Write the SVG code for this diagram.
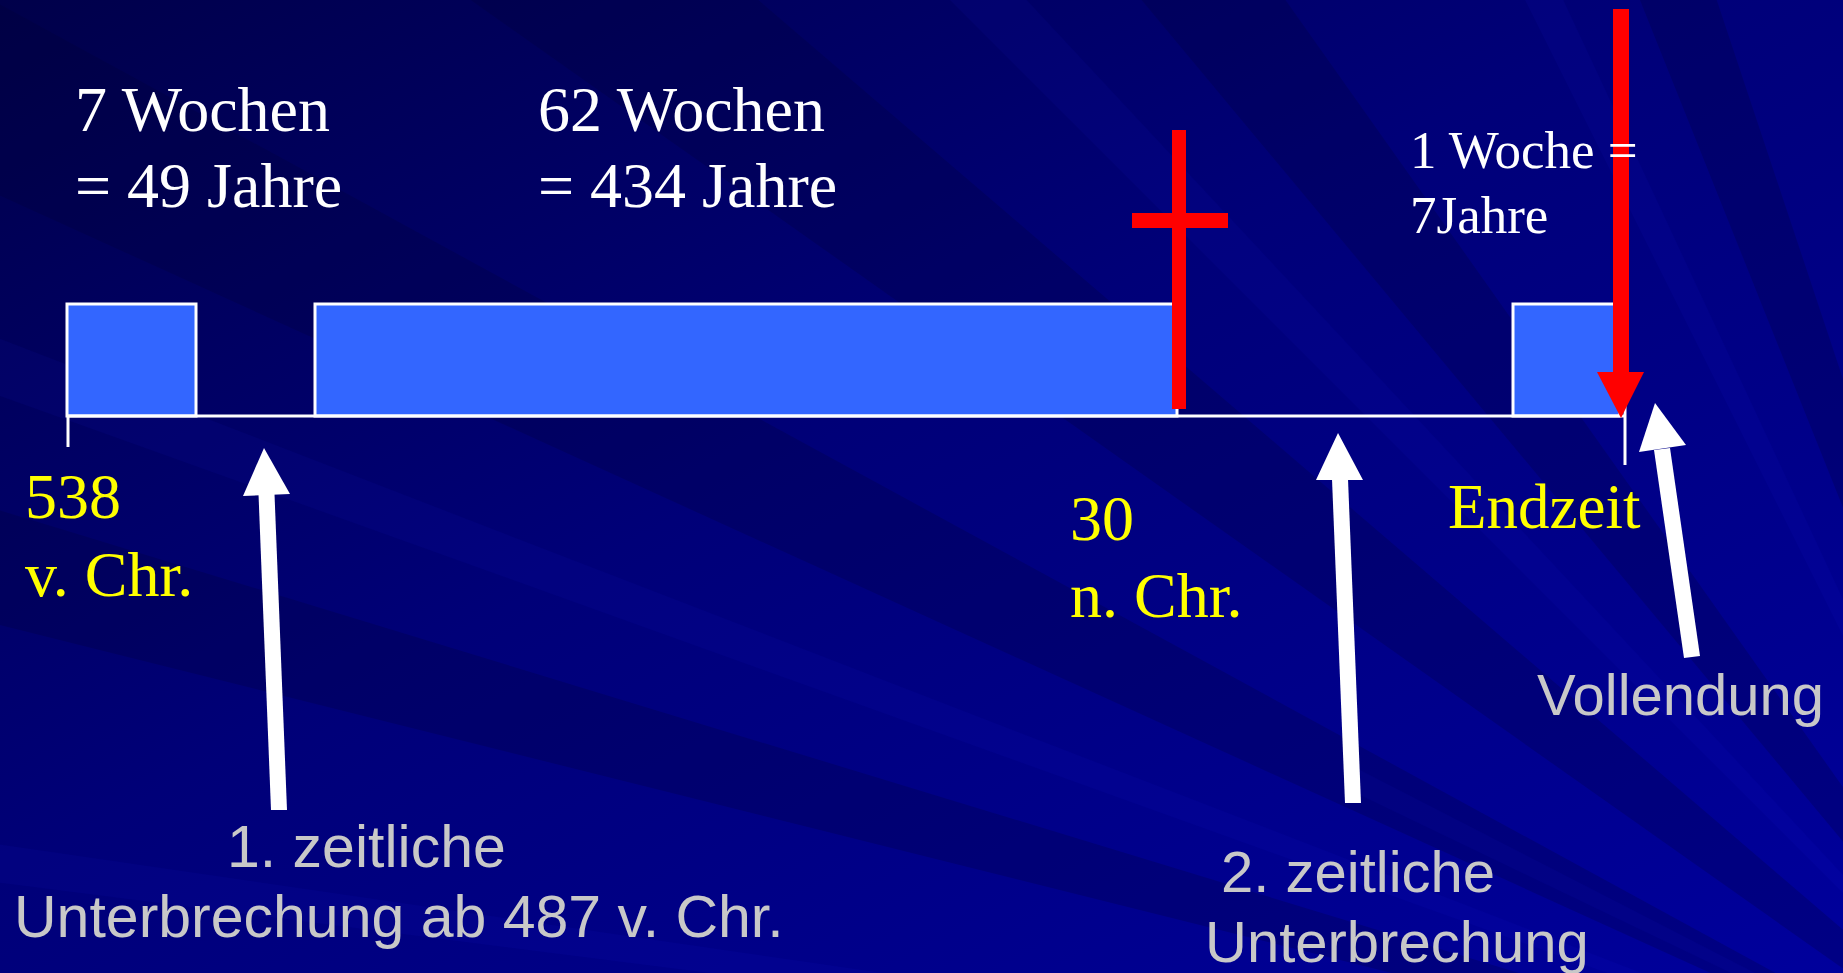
<svg xmlns="http://www.w3.org/2000/svg" width="1843" height="973" viewBox="0 0 1843 973">
<defs>
<linearGradient id="bg" x1="0" y1="0" x2="1" y2="1">
<stop offset="0" stop-color="#00004a"/>
<stop offset="0.45" stop-color="#000078"/>
<stop offset="1" stop-color="#00009c"/>
</linearGradient>
<style>
.serif{font-family:"Liberation Serif","Times New Roman",serif}
.sans{font-family:"Liberation Sans",Arial,sans-serif}
.w{fill:#ffffff}
.y{fill:#ffff00}
.g{fill:#c8c8c8}
.box{fill:#3366ff;stroke:#ffffff;stroke-width:3}
.ln{stroke:#ffffff;stroke-width:3;fill:none}
.red{fill:#ff0000}
.arr{fill:#ffffff}
.rayL{fill:#2a2aff;opacity:0.06}
.rayD{fill:#000030;opacity:0.22}
</style>
</defs>
<rect width="1843" height="973" fill="url(#bg)"/>
<g id="background-rays">
<polygon class="rayD" points="2100,1150 -100,-50 -100,150"/>
<polygon class="rayL" points="2100,1150 -100,300 -100,360"/>
<polygon class="rayD" points="2100,1150 -100,480 -100,600"/>
<polygon class="rayL" points="2100,1150 -100,830 -100,870"/>
<polygon class="rayD" points="2100,1150 400,-50 700,-50"/>
<polygon class="rayL" points="2100,1150 900,-50 980,-50"/>
<polygon class="rayD" points="2100,1150 1100,-50 1250,-50"/>
<polygon class="rayL" points="2100,1150 1500,-50 1540,-50"/>
<polygon class="rayD" points="2100,1150 1620,-50 1700,-50"/>
<polygon class="rayL" points="2100,1150 1360,770 1360,795"/>
</g>
<g id="timeline">
<rect id="box-7" class="box" x="67" y="304" width="129" height="112"/>
<rect id="box-62" class="box" x="315" y="304" width="862" height="112"/>
<rect id="box-1" class="box" x="1513" y="304" width="107" height="112"/>
<line class="ln" x1="67" y1="416" x2="1625" y2="416"/>
<line class="ln" x1="68" y1="416" x2="68" y2="447" stroke-width="2"/>
<line class="ln" x1="1625" y1="402" x2="1625" y2="465" stroke-width="2"/>
</g>
<g id="cross">
<rect class="red" x="1172" y="130" width="14" height="279"/>
<rect class="red" x="1132" y="213" width="96" height="15"/>
</g>
<g id="connectors">
<g id="red-arrow">
<rect class="red" x="1613" y="9" width="16" height="364"/>
<polygon class="red" points="1597,372 1644,372 1621,418"/>
</g>
<g id="arrow-1">
<polygon class="arr" points="258.5,494 274.5,494 287,810 271,810"/>
<polygon class="arr" points="264,448 290,494 243,496"/>
</g>
<g id="arrow-2">
<polygon class="arr" points="1332,479 1348,479 1361,803 1345,803"/>
<polygon class="arr" points="1338,433 1363,480 1316,480"/>
</g>
<g id="arrow-3">
<polygon class="arr" points="1654,450 1670,448 1700,656 1684,658"/>
<polygon class="arr" points="1655,403 1686,445 1639,452"/>
</g>
</g>
<g id="label-7wochen" class="serif w" font-size="64">
<text x="75" y="131">7 Wochen</text>
<text x="75" y="207">= 49 Jahre</text>
</g>
<g id="label-62wochen" class="serif w" font-size="64">
<text x="538" y="131">62 Wochen</text>
<text x="538" y="207">= 434 Jahre</text>
</g>
<g id="label-1woche" class="serif w" font-size="53">
<text x="1410" y="168">1 Woche =</text>
<text x="1410" y="233">7Jahre</text>
</g>
<g id="label-538" class="serif y" font-size="64">
<text x="25" y="518">538</text>
<text x="25" y="596">v. Chr.</text>
</g>
<g id="label-30" class="serif y" font-size="64">
<text x="1070" y="540">30</text>
<text x="1070" y="617">n. Chr.</text>
</g>
<g id="label-endzeit" class="serif y" font-size="63">
<text x="1448" y="528">Endzeit</text>
</g>
<g id="label-vollendung" class="sans g" font-size="58">
<text x="1537" y="715">Vollendung</text>
</g>
<g id="label-unterbrechung-1" class="sans g" font-size="59">
<text x="227" y="867">1. zeitliche</text>
<text x="14" y="937">Unterbrechung ab 487 v. Chr.</text>
</g>
<g id="label-unterbrechung-2" class="sans g" font-size="58">
<text x="1221" y="892">2. zeitliche</text>
<text x="1205" y="962">Unterbrechung</text>
</g>
</svg>
